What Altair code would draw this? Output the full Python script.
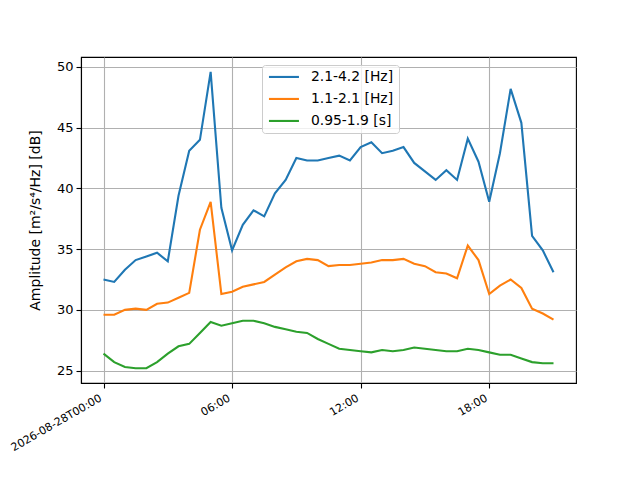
import altair as alt
import pandas as pd

times = pd.date_range("2026-08-28T00:00:00Z", periods=43, freq="30min")

band_labels = ["2.1-4.2 [Hz]", "1.1-2.1 [Hz]", "0.95-1.9 [s]"]
band_colors = ["#1f77b4", "#ff7f0e", "#2ca02c"]

blue = [32.5, 32.3, 33.3, 34.1, 34.4, 34.7, 34.0, 39.4, 43.1, 44.0,
        49.6, 38.4, 34.9, 37.0, 38.2, 37.7, 39.6, 40.7, 42.5, 42.3,
        42.3, 42.5, 42.7, 42.3, 43.4, 43.8, 42.9, 43.1, 43.4, 42.1,
        41.4, 40.7, 41.5, 40.7, 44.1, 42.2, 38.9, 42.9, 48.2, 45.4,
        36.1, 34.9, 33.1]
orange = [29.6, 29.6, 30.0, 30.1, 30.0, 30.5, 30.6, 31.0, 31.4, 36.6,
          38.9, 31.3, 31.5, 31.9, 32.1, 32.3, 32.9, 33.5, 34.0, 34.2,
          34.1, 33.6, 33.7, 33.7, 33.8, 33.9, 34.1, 34.1, 34.2, 33.8,
          33.6, 33.1, 33.0, 32.6, 35.3, 34.1, 31.3, 32.0, 32.5, 31.8,
          30.1, 29.7, 29.2]
green = [26.4, 25.7, 25.3, 25.2, 25.2, 25.7, 26.4, 27.0, 27.2, 28.1,
         29.0, 28.7, 28.9, 29.1, 29.1, 28.9, 28.6, 28.4, 28.2, 28.1,
         27.6, 27.2, 26.8, 26.7, 26.6, 26.5, 26.7, 26.6, 26.7, 26.9,
         26.8, 26.7, 26.6, 26.6, 26.8, 26.7, 26.5, 26.3, 26.3, 26.0,
         25.7, 25.6, 25.6]

y_ticks = [25, 30, 35, 40, 45, 50]
x_tick_hours = [0, 6, 12, 18]

rows = []
for lab, series in zip(band_labels, [blue, orange, green]):
    for t, v in zip(times, series):
        rows.append({"time": t.strftime("%Y-%m-%dT%H:%M:%SZ"), "band": lab, "amp": v})
df = pd.DataFrame(rows)

x_domain = [
    alt.DateTime(year=2026, month=8, date=27, hours=22, minutes=57, utc=True),
    alt.DateTime(year=2026, month=8, date=28, hours=22, minutes=3, utc=True),
]
x_values = [alt.DateTime(year=2026, month=8, date=28, hours=h, utc=True) for h in x_tick_hours]

font = "DejaVu Sans"

chart = alt.Chart(df).mark_line(strokeWidth=2.1, clip=True).encode(
    x=alt.X(
        "time:T",
        scale=alt.Scale(type="utc", domain=x_domain, nice=False),
        axis=alt.Axis(
            values=x_values,
            title=None,
            labelAngle=330,
            labelAlign="right",
            labelBaseline="top",
            labelFontSize=11,
            labelPadding=4,
            labelOffset=-6,
            labelExpr="utcFormat(datum.value, '%H') == '00' ? utcFormat(datum.value, '%Y-%m-%dT%H:%M') : utcFormat(datum.value, '%H:%M')",
        ),
    ),
    y=alt.Y(
        "amp:Q",
        scale=alt.Scale(domain=[23.98, 50.82], nice=False, zero=False),
        axis=alt.Axis(
            values=y_ticks,
            title="Amplitude [m²/s⁴/Hz] [dB]",
            labelFontSize=13,
            labelPadding=3,
            titleFontSize=14,
            titleFontWeight="normal",
            titlePadding=14,
        ),
    ),
    color=alt.Color(
        "band:N",
        sort=band_labels,
        scale=alt.Scale(domain=band_labels, range=band_colors),
        legend=alt.Legend(
            title=None,
            orient="none",
            legendX=181,
            legendY=8,
            fillColor="rgba(255,255,255,0.8)",
            strokeColor="#cccccc",
            cornerRadius=3,
            padding=5,
            labelFontSize=13.9,
            labelColor="black",
            symbolType="M-3,0H3",
            symbolSize=100,
            symbolStrokeWidth=2.1,
            symbolOffset=10,
            labelOffset=20,
            rowPadding=7,
        ),
    ),
).properties(
    width=495,
    height=326,
    autosize=alt.AutoSizeParams(type="none"),
    padding={"left": 73, "top": 49, "right": 56, "bottom": 89},
).configure_axis(
    grid=True,
    gridColor="#b0b0b0",
    gridWidth=1.1,
    domainColor="black",
    domainWidth=1.1,
    tickColor="black",
    tickWidth=1.1,
    tickSize=5,
    labelColor="black",
    titleColor="black",
    labelFont=font,
    titleFont=font,
).configure_legend(
    labelFont=font,
).configure_view(
    stroke="black",
    strokeWidth=1.1,
)

chart.save("out.html", embed_options={"renderer": "svg", "actions": False})
